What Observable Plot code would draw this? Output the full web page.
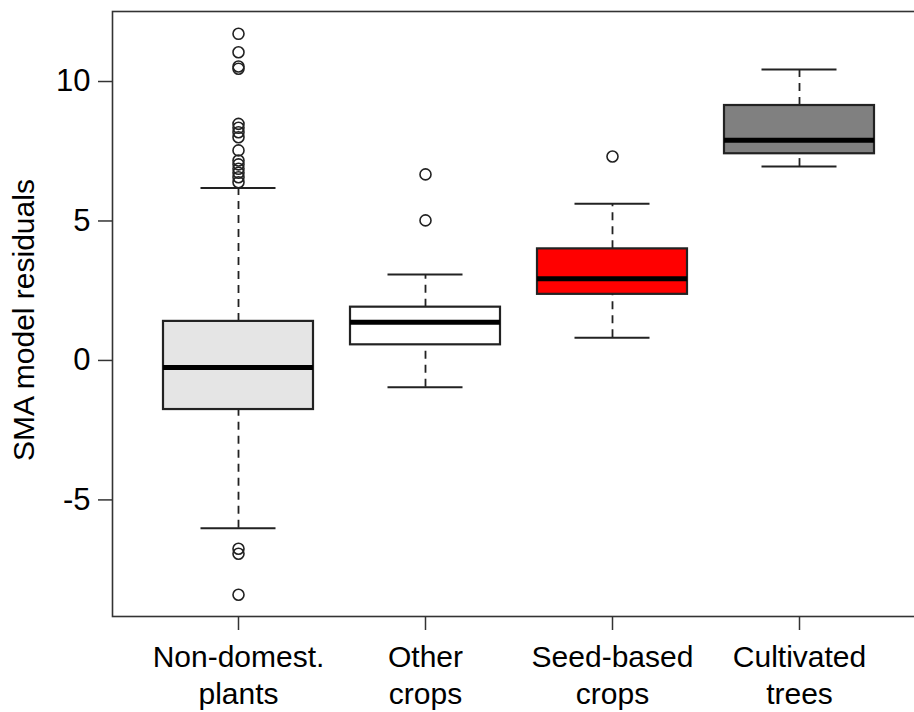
<!DOCTYPE html>
<html>
<head>
<meta charset="utf-8">
<script src="https://cdn.jsdelivr.net/npm/d3@7"></script>
<script src="https://cdn.jsdelivr.net/npm/@observablehq/plot@0.6"></script>
<style>
  html, body { margin: 0; padding: 0; background: #fff; overflow: hidden; }
  #chart { width: 914px; height: 712px; overflow: hidden; }
</style>
</head>
<body>
<div id="chart"></div>
<script>
// ---- data ----
const categories = ["Non-domest. plants", "Other crops", "Seed-based crops", "Cultivated trees"];
const tickLabels = ["Non-domest.\nplants", "Other\ncrops", "Seed-based\ncrops", "Cultivated\ntrees"];
const boxFills = ["#e5e5e5", "#ffffff", "#ff0000", "#808080"];
const lowerWhisker = [-6.02, -0.96, 0.81, 6.95];
const q1 = [-1.76, 0.56, 2.37, 7.41];
const median = [-0.25, 1.37, 2.93, 7.89];
const q3 = [1.40, 1.91, 4.00, 9.14];
const upperWhisker = [6.18, 3.08, 5.62, 10.43];
const outliersNonDomest = [11.71, 11.05, 10.54, 10.46, 8.48, 8.34, 8.18, 8.00, 7.53, 7.17, 7.03, 6.87, 6.73, 6.57, 6.39, -6.75, -6.93, -8.40];
const outliersOther = [6.67, 5.02];
const outliersSeed = [7.31];
const outliersTrees = [];
const yTicks = [-5, 0, 5, 10];
const yLabel = "SMA model residuals";

// ---- tables built from the arrays ----
const boxes = categories.map((c, i) => ({
  cat: c, fill: boxFills[i], lo: lowerWhisker[i], q1: q1[i], med: median[i], q3: q3[i], hi: upperWhisker[i]
}));
const outlierLists = [outliersNonDomest, outliersOther, outliersSeed, outliersTrees];
const outliers = outlierLists.flatMap((arr, i) => arr.map(v => ({cat: categories[i], value: v})));

const plot = Plot.plot({
  width: 914,
  height: 712,
  marginLeft: 112,
  marginRight: -10,
  marginTop: 11,
  marginBottom: 96,
  style: {fontFamily: "'Liberation Sans', Arial, Helvetica, sans-serif", color: "#000", background: "#fff"},
  x: {type: "band", domain: categories, paddingInner: 0.2, paddingOuter: 0.26, axis: null},
  y: {domain: [-9.18, 12.51], axis: null},
  color: {type: "identity"},
  marks: [
    Plot.frame({stroke: "#333", strokeWidth: 1.6}),
    // whiskers (dashed)
    Plot.ruleX(boxes, {x: "cat", y1: "q3", y2: "hi", stroke: "#222", strokeWidth: 1.8, strokeDasharray: "8,6"}),
    Plot.ruleX(boxes, {x: "cat", y1: "lo", y2: "q1", stroke: "#222", strokeWidth: 1.8, strokeDasharray: "8,6"}),
    // whisker caps
    Plot.tickY(boxes, {x: "cat", y: "hi", stroke: "#222", strokeWidth: 2, insetLeft: 37.5, insetRight: 37.5}),
    Plot.tickY(boxes, {x: "cat", y: "lo", stroke: "#222", strokeWidth: 2, insetLeft: 37.5, insetRight: 37.5}),
    // boxes
    Plot.barY(boxes, {x: "cat", y1: "q1", y2: "q3", fill: "fill", stroke: "#222", strokeWidth: 2.2}),
    // medians
    Plot.tickY(boxes, {x: "cat", y: "med", stroke: "#000", strokeWidth: 5}),
    // outliers
    Plot.dot(outliers, {x: "cat", y: "value", r: 5.5, stroke: "#222", strokeWidth: 1.6, fill: "none"}),
    // axes
    Plot.axisY({ticks: yTicks, tickFormat: d => String(d), tickSize: 14, tickPadding: 8, fontSize: 31, stroke: "#333", strokeWidth: 1.5, label: null}),
    Plot.axisX({tickFormat: (d) => tickLabels[categories.indexOf(d)], tickSize: 14, tickPadding: 10, fontSize: 30, lineHeight: 1.23, stroke: "#333", strokeWidth: 1.5, label: null}),
    Plot.text([yLabel], {frameAnchor: "left", text: d => d, rotate: -90, dx: -79, dy: 6, lineAnchor: "bottom", textAnchor: "middle", fontSize: 30, fill: "#000"})
  ]
});
document.getElementById("chart").appendChild(plot);
</script>
</body>
</html>
